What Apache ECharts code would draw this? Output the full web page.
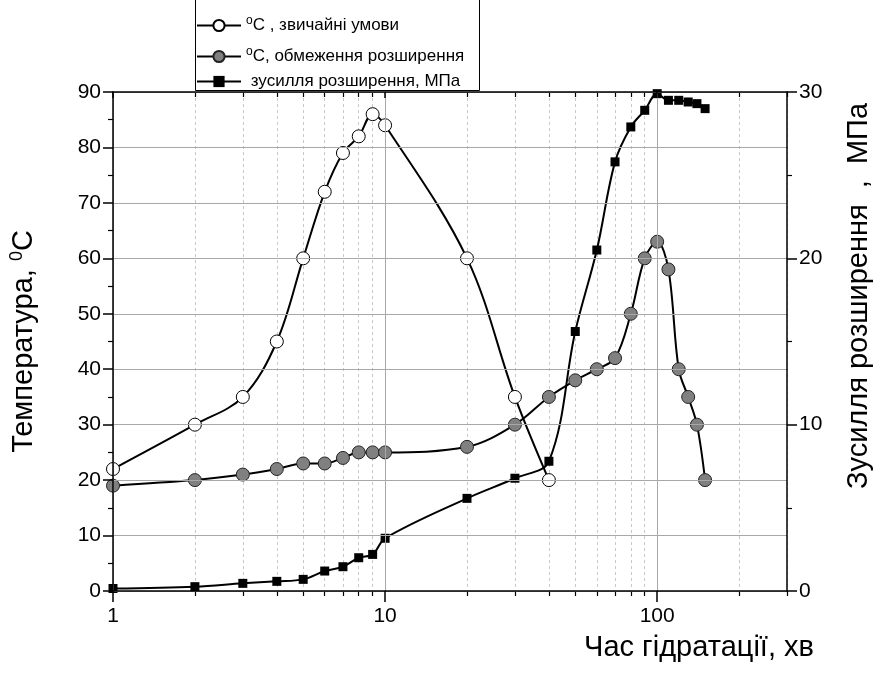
<!DOCTYPE html>
<html>
<head>
<meta charset="utf-8">
<script src="https://cdn.jsdelivr.net/npm/echarts@6/dist/echarts.min.js"></script>
<style>
  html, body { margin: 0; background: #fff; }
  #chart { width: 884px; height: 676px; }
</style>
</head>
<body>
<div id="chart"></div>
<script>
// time of hydration, min
const timeNormal = [1, 2, 3, 4, 5, 6, 7, 8, 9, 10, 20, 30, 40];
const tempNormal = [22, 30, 35, 45, 60, 72, 79, 82, 86, 84, 60, 35, 20];

const timeRestrained = [1, 2, 3, 4, 5, 6, 7, 8, 9, 10, 20, 30, 40, 50, 60, 70, 80, 90, 100, 110, 120, 130, 140, 150];
const tempRestrained = [19, 20, 21, 22, 23, 23, 24, 25, 25, 25, 26, 30, 35, 38, 40, 42, 50, 60, 63, 58, 40, 35, 30, 20];

const timeForce = [1, 2, 3, 4, 5, 6, 7, 8, 9, 10, 20, 30, 40, 50, 60, 70, 80, 90, 100, 110, 120, 130, 140, 150];
const forceMPa = [0.15, 0.26, 0.46, 0.58, 0.7, 1.2, 1.46, 2.0, 2.2, 3.17, 5.57, 6.78, 7.8, 15.6, 20.5, 25.8, 27.9, 28.9, 29.9, 29.5, 29.5, 29.4, 29.3, 29.0];

const majorTicks = [1, 10, 100];
const minorTicks = [2, 3, 4, 5, 6, 7, 8, 9, 20, 30, 40, 50, 60, 70, 80, 90, 200, 300];

const legendLabels = {
  normal: '{sup|o}{t|C , звичайні умови}',
  restrained: '{sup|o}{t|C, обмеження розширення}',
  force: '{t| зусилля розширення, МПа}'
};

const zip = (xs, ys) => xs.map((x, i) => [x, ys[i]]);

const chart = echarts.init(document.getElementById('chart'));
const FONT = 'Liberation Sans, Arial, sans-serif';
const black = '#000';
const TITLE_SIZE = 29;

const legendRich = {
  sup: { fontSize: 12, verticalAlign: 'bottom', padding: [0, 0, 9, 0], fontFamily: FONT, color: black },
  t: { fontSize: 17, fontFamily: FONT, color: black }
};

function makeLegend(name, top) {
  return {
    data: [name],
    left: 196,
    top: top,
    padding: 0,
    itemWidth: 44,
    itemHeight: 14,
    itemGap: 6,
    formatter: (n) => legendLabels[n],
    textStyle: { rich: legendRich, fontFamily: FONT, fontSize: 17, color: black },
    selectedMode: false
  };
}

function logAxis(extra) {
  return Object.assign({
    type: 'log',
    logBase: 10,
    min: 1,
    max: 300,
    gridIndex: 0
  }, extra);
}

const option = {
  animation: false,
  backgroundColor: '#fff',
  textStyle: { fontFamily: FONT },
  grid: { left: 111, right: 97, top: 92, bottom: 85, containLabel: false },
  legend: [
    makeLegend('normal', 15),
    makeLegend('restrained', 46),
    makeLegend('force', 73)
  ],
  graphic: [
    {
      type: 'rect',
      left: 193, top: -5,
      shape: { width: 284, height: 93 },
      style: { fill: 'none', stroke: black, lineWidth: 1 },
      z: 1
    },
    {
      type: 'text',
      x: 699, y: 648,
      style: { text: 'Час гідратації, хв', font: TITLE_SIZE + 'px ' + FONT, fill: black, align: 'center', verticalAlign: 'middle' }
    },
    {
      type: 'text',
      x: 859, y: 296,
      rotation: Math.PI / 2,
      style: { text: 'Зусилля розширення  ,  МПа', font: TITLE_SIZE + 'px ' + FONT, fill: black, align: 'center', verticalAlign: 'middle' }
    }
  ],
  xAxis: [
    logAxis({
      position: 'bottom',
      axisLine: { lineStyle: { color: black, width: 1.5 } },
      axisTick: { inside: false, length: 11, lineStyle: { color: black, width: 1.5 }, customValues: majorTicks },
      axisLabel: { customValues: majorTicks, color: black, fontSize: 21, margin: 15, fontFamily: FONT },
      splitLine: { show: true, lineStyle: { color: '#a8a8a8', width: 1 } },
      minorTick: { show: false },
      z: 5
    }),
    logAxis({
      position: 'bottom',
      axisLine: { show: false },
      axisTick: { inside: false, length: 5, lineStyle: { color: black, width: 1.2 }, customValues: minorTicks },
      axisLabel: { show: false },
      splitLine: { show: true, lineStyle: { color: '#c8c8c8', width: 1, type: [3, 3] } }
    }),
    logAxis({
      position: 'top',
      axisLine: { lineStyle: { color: black, width: 1.5 } },
      axisTick: { inside: true, length: 6, lineStyle: { color: black, width: 1.5 }, customValues: majorTicks },
      axisLabel: { show: false },
      splitLine: { show: false },
      z: 5
    }),
    logAxis({
      position: 'top',
      axisLine: { show: false },
      axisTick: { inside: true, length: 5, lineStyle: { color: black, width: 1.2 }, customValues: minorTicks },
      axisLabel: { show: false },
      splitLine: { show: false }
    })
  ],
  yAxis: [
    {
      type: 'value',
      position: 'left',
      min: 0, max: 90, interval: 10,
      name: '{t|Температура, }{sup|0}{t|C}',
      nameLocation: 'middle',
      nameGap: 73,
      nameTextStyle: {
        rich: {
          t: { fontSize: TITLE_SIZE, fontFamily: FONT, color: black },
          sup: { fontSize: 18, fontFamily: FONT, color: black, verticalAlign: 'bottom', padding: [0, 0, 14, 0] }
        }
      },
      axisLine: { show: true, lineStyle: { color: black, width: 1.5 } },
      axisTick: { show: true, inside: false, length: 10, lineStyle: { color: black, width: 1.5 } },
      minorTick: { show: true, splitNumber: 2, length: 5, lineStyle: { color: black, width: 1.2 } },
      axisLabel: { color: black, fontSize: 21, margin: 12, fontFamily: FONT },
      splitLine: { show: true, lineStyle: { color: '#a8a8a8', width: 1 } },
      z: 5
    },
    {
      type: 'value',
      position: 'right',
      min: 0, max: 30, interval: 10,
      axisLine: { show: true, lineStyle: { color: black, width: 1.5 } },
      axisTick: { show: true, inside: false, length: 10, lineStyle: { color: black, width: 1.5 } },
      minorTick: { show: true, splitNumber: 2, length: 5, lineStyle: { color: black, width: 1.2 } },
      axisLabel: { color: black, fontSize: 21, margin: 12, fontFamily: FONT },
      splitLine: { show: false },
      z: 5
    }
  ],
  series: [
    {
      name: 'normal',
      type: 'line',
      xAxisIndex: 0, yAxisIndex: 0,
      data: zip(timeNormal, tempNormal),
      smooth: 0.35,
      symbol: 'circle',
      symbolSize: 13,
      lineStyle: { color: black, width: 2 },
      itemStyle: { color: '#fff', borderColor: black, borderWidth: 1 },
      z: 3
    },
    {
      name: 'restrained',
      type: 'line',
      xAxisIndex: 0, yAxisIndex: 0,
      data: zip(timeRestrained, tempRestrained),
      smooth: 0.35,
      symbol: 'circle',
      symbolSize: 13,
      lineStyle: { color: black, width: 2 },
      itemStyle: { color: '#808080', borderColor: '#222', borderWidth: 1 },
      z: 3
    },
    {
      name: 'force',
      type: 'line',
      xAxisIndex: 0, yAxisIndex: 1,
      data: zip(timeForce, forceMPa),
      smooth: 0.35,
      symbol: 'rect',
      symbolSize: 9,
      lineStyle: { color: black, width: 2 },
      itemStyle: { color: black, borderColor: black, borderWidth: 0 },
      z: 3
    }
  ]
};

chart.setOption(option);
</script>
</body>
</html>
